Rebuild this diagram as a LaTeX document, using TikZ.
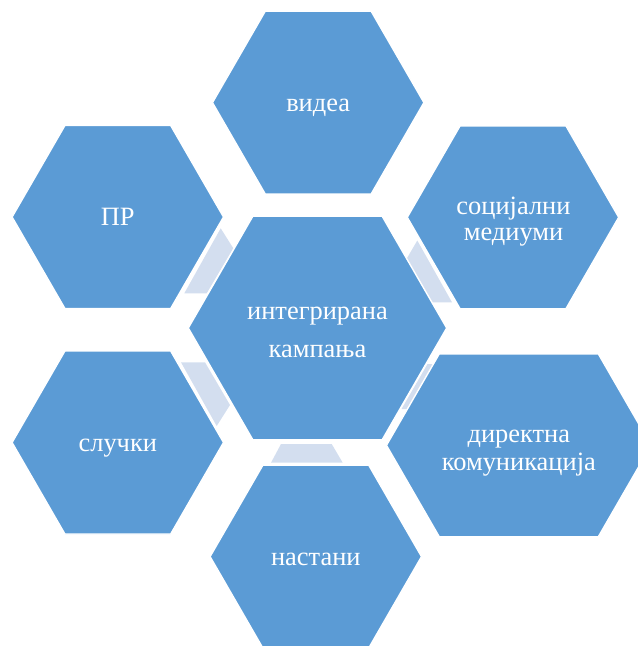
\documentclass[tikz,border=0pt]{standalone}
\usepackage{fontspec}
\setmainfont{Liberation Serif}
\definecolor{hexblue}{HTML}{5B9BD5}
\definecolor{gapblue}{HTML}{D3DEEF}

\begin{document}
\begin{tikzpicture}[
        x=0.025cm, y=-0.025cm,
        hex/.style={fill=hexblue, draw=white, line width=1pt},
        gap/.style={fill=gapblue},
        label/.style={text=white, align=center, inner sep=0pt},
        one/.style={label, anchor=base, font=\fontsize{18.8}{22}\selectfont},
        wide/.style={label, font=\fontsize{18.8}{27}\selectfont},
        tight/.style={label, font=\fontsize{18.8}{18.6}\selectfont},
        mid/.style={label, font=\fontsize{18.8}{20}\selectfont}
    ]
        \clip (0,0) rectangle (638,646);

        % Light pieces between the centre and the outer hexagons
        \fill[gap] (220.7,228.3) -- (233.3,248.3) -- (206.7,293.3) -- (184.3,293.3) -- cycle;
        \fill[gap] (417.3,240.5) -- (406.5,259) -- (432,302.3) -- (452,302.3) -- cycle;
        \fill[gap] (181,362.3) -- (205,362.3) -- (230,405) -- (216.7,426) -- cycle;
        \fill[gap] (427.5,364) -- (433,364) -- (407,409) -- (401.5,409) -- cycle;
        \fill[gap] (281,444) -- (331.7,444) -- (342.7,462.7) -- (271,462.7) -- cycle;

        % Hexagons (centre x / centre y / half top edge / half height)
        \foreach \cx/\cy/\a/\h in {317.5/328/64.6/111.9,
                                   318.2/102.6/52.9/91.5,
                                   117.8/217/52.9/91.5,
                                   513/217.3/52.9/91.5,
                                   518.8/445.3/79.5/91.5,
                                   117.8/442.5/52.9/91.5,
                                   315.8/556.6/52.9/91.5}
            \draw[hex] ({\cx-\a-\h*0.57735},\cy) -- ({\cx-\a},{\cy-\h})
                -- ({\cx+\a},{\cy-\h}) -- ({\cx+\a+\h*0.57735},\cy)
                -- ({\cx+\a},{\cy+\h}) -- ({\cx-\a},{\cy+\h}) -- cycle;

        % Labels
        \node[wide] (campaign) at (317.5,332) {интегрирана\\кампања};
        \node[one] (video) at (318.2,111) {видеа};
        \node[one] (pr) at (117.8,225) {ПР};
        \node[tight] (social) at (513.5,221.5) {социјални\\медиуми};
        \node[mid] (direct) at (518.8,453) {директна\\комуникација};
        \node[one] (stories) at (117.8,451) {случки};
        \node[one] (events) at (315.8,565) {настани};

    \end{tikzpicture}
\end{document}
